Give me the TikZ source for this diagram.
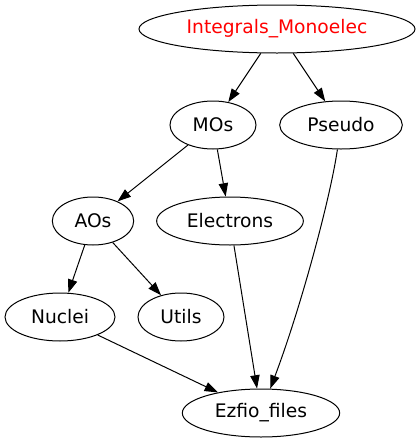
\documentclass[tikz,border=0pt]{standalone}
\usepackage{fontspec}
\setmainfont{DejaVu Sans}
\usepackage{tikz}
\usetikzlibrary{shapes,arrows.meta,positioning,calc}

\tikzset{
  module/.style={draw, ellipse, line width=0.75pt, inner sep=1pt,
    minimum height=36pt, font=\fontsize{14}{17}\selectfont},
  dep/.style={line width=0.75pt, -{Triangle[length=10pt,width=7pt]}}
}

\begin{document}
\begin{tikzpicture}[x=0.75pt, y=-0.75pt]
  \useasboundingbox (0,0) rectangle (420,443);
  % top level
  \node[module, minimum width=207pt, text=red] (integrals) at (277,29) {Integrals\_Monoelec};
  \node[module, minimum width=64.5pt] (mos) at (213,125) {MOs};
  \node[module, minimum width=92pt] (pseudo) at (341,125) {Pseudo};
  % middle
  \node[module, minimum width=61pt] (aos) at (93,221) {AOs};
  \node[module, minimum width=110pt] (electrons) at (230,221) {Electrons};
  \node[module, minimum width=82.5pt] (nuclei) at (60,317) {Nuclei};
  \node[module, minimum width=64.5pt] (utils) at (181,317) {Utils};
  % bottom
  \node[module, minimum width=118pt] (ezfio) at (261,413) {Ezfio\_files};

  % dependencies
  \draw[dep] (integrals) -- (mos);
  \draw[dep] (integrals) -- (pseudo);
  \draw[dep] (mos) -- (aos);
  \draw[dep] (mos) -- (electrons);
  \draw[dep] (aos) -- (nuclei);
  \draw[dep] (aos) -- (utils);
  \draw[dep] (nuclei) -- (ezfio);
  \draw[dep] (electrons) -- (ezfio);
  \draw[dep] (pseudo) .. controls (330,200) and (300,310) .. (ezfio);
\end{tikzpicture}
\end{document}
